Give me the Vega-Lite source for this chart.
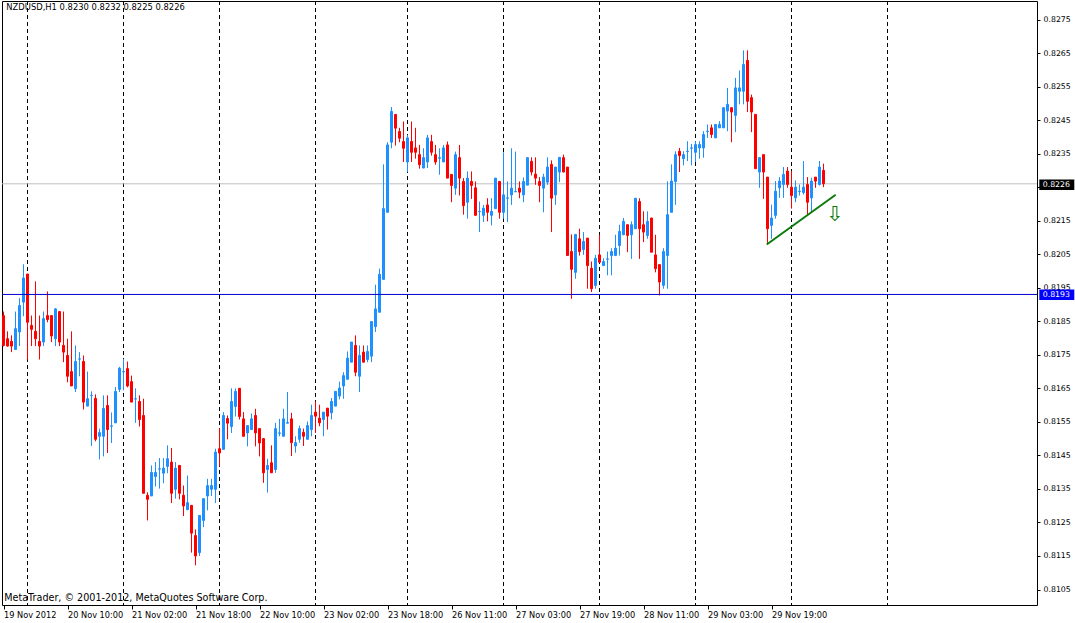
{
"$schema": "https://vega.github.io/schema/vega-lite/v6.json",
"width": 1035, "height": 604,
"autosize": {"type": "none"},
"padding": {"left": 2, "top": 1, "right": 38, "bottom": 18},
"background": "white",
"config": {"view": {"stroke": "black", "strokeWidth": 1}, "axis": {"title": null, "grid": false, "domain": false, "labelOverlap": false}, "scale": {"continuousPadding": 0}},
"resolve": {"axis": {"x": "independent", "y": "independent"}},
"datasets": {
"candles": [
{"i":0,"o":0.81867,"h":0.81879,"l":0.81775,"c":0.81778},
{"i":1,"o":0.81798,"h":0.81820,"l":0.81775,"c":0.81776},
{"i":2,"o":0.81790,"h":0.81808,"l":0.81758,"c":0.81776},
{"i":3,"o":0.81766,"h":0.81879,"l":0.81766,"c":0.81828},
{"i":4,"o":0.81818,"h":0.81919,"l":0.81776,"c":0.81897},
{"i":5,"o":0.81907,"h":0.82020,"l":0.81865,"c":0.81979},
{"i":6,"o":0.81991,"h":0.81991,"l":0.81736,"c":0.81847},
{"i":7,"o":0.81838,"h":0.81867,"l":0.81776,"c":0.81826},
{"i":8,"o":0.81820,"h":0.81969,"l":0.81776,"c":0.81798},
{"i":9,"o":0.81790,"h":0.81867,"l":0.81736,"c":0.81776},
{"i":10,"o":0.81788,"h":0.81879,"l":0.81776,"c":0.81858},
{"i":11,"o":0.81867,"h":0.81939,"l":0.81847,"c":0.81855},
{"i":12,"o":0.81867,"h":0.81867,"l":0.81788,"c":0.81806},
{"i":13,"o":0.81798,"h":0.81889,"l":0.81776,"c":0.81887},
{"i":14,"o":0.81879,"h":0.81879,"l":0.81776,"c":0.81788},
{"i":15,"o":0.81778,"h":0.81879,"l":0.81728,"c":0.81758},
{"i":16,"o":0.81748,"h":0.81798,"l":0.81668,"c":0.81686},
{"i":17,"o":0.81700,"h":0.81820,"l":0.81657,"c":0.81657},
{"i":18,"o":0.81649,"h":0.81778,"l":0.81639,"c":0.81730},
{"i":19,"o":0.81737,"h":0.81758,"l":0.81686,"c":0.81738},
{"i":20,"o":0.81730,"h":0.81748,"l":0.81587,"c":0.81609},
{"i":21,"o":0.81597,"h":0.81700,"l":0.81597,"c":0.81619},
{"i":22,"o":0.81628,"h":0.81641,"l":0.81478,"c":0.81629},
{"i":23,"o":0.81620,"h":0.81632,"l":0.81492,"c":0.81498},
{"i":24,"o":0.81507,"h":0.81530,"l":0.81438,"c":0.81518},
{"i":25,"o":0.81507,"h":0.81629,"l":0.81447,"c":0.81590},
{"i":26,"o":0.81599,"h":0.81629,"l":0.81457,"c":0.81527},
{"i":27,"o":0.81537,"h":0.81578,"l":0.81487,"c":0.81538},
{"i":28,"o":0.81547,"h":0.81654,"l":0.81547,"c":0.81641},
{"i":29,"o":0.81647,"h":0.81714,"l":0.81639,"c":0.81710},
{"i":30,"o":0.81699,"h":0.81738,"l":0.81644,"c":0.81700},
{"i":31,"o":0.81709,"h":0.81730,"l":0.81653,"c":0.81657},
{"i":32,"o":0.81670,"h":0.81688,"l":0.81609,"c":0.81609},
{"i":33,"o":0.81618,"h":0.81650,"l":0.81547,"c":0.81619},
{"i":34,"o":0.81611,"h":0.81629,"l":0.81536,"c":0.81557},
{"i":35,"o":0.81569,"h":0.81619,"l":0.81337,"c":0.81337},
{"i":36,"o":0.81331,"h":0.81340,"l":0.81256,"c":0.81319},
{"i":37,"o":0.81329,"h":0.81420,"l":0.81329,"c":0.81399},
{"i":38,"o":0.81387,"h":0.81430,"l":0.81357,"c":0.81399},
{"i":39,"o":0.81409,"h":0.81442,"l":0.81351,"c":0.81410},
{"i":40,"o":0.81397,"h":0.81442,"l":0.81367,"c":0.81412},
{"i":41,"o":0.81417,"h":0.81480,"l":0.81397,"c":0.81440},
{"i":42,"o":0.81430,"h":0.81472,"l":0.81308,"c":0.81337},
{"i":43,"o":0.81349,"h":0.81430,"l":0.81321,"c":0.81412},
{"i":44,"o":0.81420,"h":0.81420,"l":0.81319,"c":0.81337},
{"i":45,"o":0.81331,"h":0.81360,"l":0.81269,"c":0.81299},
{"i":46,"o":0.81288,"h":0.81390,"l":0.81288,"c":0.81309},
{"i":47,"o":0.81301,"h":0.81301,"l":0.81160,"c":0.81218},
{"i":48,"o":0.81211,"h":0.81229,"l":0.81122,"c":0.81150},
{"i":49,"o":0.81160,"h":0.81271,"l":0.81150,"c":0.81271},
{"i":50,"o":0.81256,"h":0.81321,"l":0.81236,"c":0.81321},
{"i":51,"o":0.81329,"h":0.81380,"l":0.81286,"c":0.81360},
{"i":52,"o":0.81349,"h":0.81380,"l":0.81329,"c":0.81360},
{"i":53,"o":0.81349,"h":0.81470,"l":0.81308,"c":0.81460},
{"i":54,"o":0.81470,"h":0.81531,"l":0.81417,"c":0.81457},
{"i":55,"o":0.81468,"h":0.81579,"l":0.81468,"c":0.81569},
{"i":56,"o":0.81560,"h":0.81569,"l":0.81498,"c":0.81546},
{"i":57,"o":0.81536,"h":0.81650,"l":0.81517,"c":0.81611},
{"i":58,"o":0.81596,"h":0.81650,"l":0.81566,"c":0.81641},
{"i":59,"o":0.81650,"h":0.81650,"l":0.81557,"c":0.81566},
{"i":60,"o":0.81559,"h":0.81579,"l":0.81507,"c":0.81507},
{"i":61,"o":0.81517,"h":0.81539,"l":0.81477,"c":0.81539},
{"i":62,"o":0.81527,"h":0.81575,"l":0.81527,"c":0.81559},
{"i":63,"o":0.81569,"h":0.81589,"l":0.81477,"c":0.81517},
{"i":64,"o":0.81530,"h":0.81530,"l":0.81447,"c":0.81487},
{"i":65,"o":0.81500,"h":0.81500,"l":0.81368,"c":0.81398},
{"i":66,"o":0.81408,"h":0.81440,"l":0.81339,"c":0.81420},
{"i":67,"o":0.81428,"h":0.81480,"l":0.81398,"c":0.81398},
{"i":68,"o":0.81408,"h":0.81547,"l":0.81398,"c":0.81530},
{"i":69,"o":0.81516,"h":0.81559,"l":0.81507,"c":0.81517},
{"i":70,"o":0.81507,"h":0.81589,"l":0.81507,"c":0.81559},
{"i":71,"o":0.81546,"h":0.81639,"l":0.81546,"c":0.81548},
{"i":72,"o":0.81559,"h":0.81577,"l":0.81448,"c":0.81488},
{"i":73,"o":0.81478,"h":0.81507,"l":0.81458,"c":0.81488},
{"i":74,"o":0.81498,"h":0.81539,"l":0.81488,"c":0.81530},
{"i":75,"o":0.81519,"h":0.81530,"l":0.81478,"c":0.81507},
{"i":76,"o":0.81498,"h":0.81551,"l":0.81498,"c":0.81539},
{"i":77,"o":0.81527,"h":0.81601,"l":0.81507,"c":0.81569},
{"i":78,"o":0.81579,"h":0.81611,"l":0.81517,"c":0.81567},
{"i":79,"o":0.81561,"h":0.81601,"l":0.81537,"c":0.81547},
{"i":80,"o":0.81557,"h":0.81579,"l":0.81507,"c":0.81579},
{"i":81,"o":0.81591,"h":0.81591,"l":0.81527,"c":0.81567},
{"i":82,"o":0.81577,"h":0.81621,"l":0.81557,"c":0.81611},
{"i":83,"o":0.81597,"h":0.81641,"l":0.81597,"c":0.81641},
{"i":84,"o":0.81627,"h":0.81670,"l":0.81617,"c":0.81651},
{"i":85,"o":0.81657,"h":0.81698,"l":0.81619,"c":0.81688},
{"i":86,"o":0.81677,"h":0.81760,"l":0.81677,"c":0.81740},
{"i":87,"o":0.81728,"h":0.81788,"l":0.81728,"c":0.81788},
{"i":88,"o":0.81778,"h":0.81808,"l":0.81686,"c":0.81698},
{"i":89,"o":0.81686,"h":0.81778,"l":0.81639,"c":0.81748},
{"i":90,"o":0.81758,"h":0.81778,"l":0.81728,"c":0.81728},
{"i":91,"o":0.81736,"h":0.81778,"l":0.81728,"c":0.81760},
{"i":92,"o":0.81746,"h":0.81849,"l":0.81728,"c":0.81849},
{"i":93,"o":0.81834,"h":0.81959,"l":0.81818,"c":0.81887},
{"i":94,"o":0.81877,"h":0.82007,"l":0.81877,"c":0.81990},
{"i":95,"o":0.81975,"h":0.82318,"l":0.81975,"c":0.82186},
{"i":96,"o":0.82175,"h":0.82384,"l":0.82175,"c":0.82376},
{"i":97,"o":0.82384,"h":0.82489,"l":0.82366,"c":0.82476},
{"i":98,"o":0.82467,"h":0.82467,"l":0.82374,"c":0.82426},
{"i":99,"o":0.82416,"h":0.82427,"l":0.82384,"c":0.82396},
{"i":100,"o":0.82386,"h":0.82446,"l":0.82325,"c":0.82366},
{"i":101,"o":0.82325,"h":0.82406,"l":0.82295,"c":0.82397},
{"i":102,"o":0.82386,"h":0.82446,"l":0.82325,"c":0.82354},
{"i":103,"o":0.82367,"h":0.82427,"l":0.82335,"c":0.82354},
{"i":104,"o":0.82347,"h":0.82376,"l":0.82305,"c":0.82317},
{"i":105,"o":0.82307,"h":0.82366,"l":0.82307,"c":0.82338},
{"i":106,"o":0.82325,"h":0.82406,"l":0.82307,"c":0.82397},
{"i":107,"o":0.82386,"h":0.82406,"l":0.82344,"c":0.82354},
{"i":108,"o":0.82347,"h":0.82376,"l":0.82317,"c":0.82325},
{"i":109,"o":0.82336,"h":0.82366,"l":0.82287,"c":0.82338},
{"i":110,"o":0.82325,"h":0.82376,"l":0.82325,"c":0.82367},
{"i":111,"o":0.82376,"h":0.82386,"l":0.82277,"c":0.82277},
{"i":112,"o":0.82288,"h":0.82288,"l":0.82205,"c":0.82255},
{"i":113,"o":0.82247,"h":0.82356,"l":0.82227,"c":0.82347},
{"i":114,"o":0.82338,"h":0.82376,"l":0.82225,"c":0.82277},
{"i":115,"o":0.82267,"h":0.82277,"l":0.82168,"c":0.82195},
{"i":116,"o":0.82205,"h":0.82297,"l":0.82156,"c":0.82277},
{"i":117,"o":0.82267,"h":0.82297,"l":0.82215,"c":0.82255},
{"i":118,"o":0.82248,"h":0.82267,"l":0.82166,"c":0.82166},
{"i":119,"o":0.82177,"h":0.82207,"l":0.82116,"c":0.82178},
{"i":120,"o":0.82166,"h":0.82197,"l":0.82146,"c":0.82187},
{"i":121,"o":0.82197,"h":0.82217,"l":0.82148,"c":0.82175},
{"i":122,"o":0.82166,"h":0.82217,"l":0.82136,"c":0.82178},
{"i":123,"o":0.82186,"h":0.82277,"l":0.82186,"c":0.82277},
{"i":124,"o":0.82267,"h":0.82267,"l":0.82156,"c":0.82175},
{"i":125,"o":0.82175,"h":0.82354,"l":0.82156,"c":0.82227},
{"i":126,"o":0.82217,"h":0.82267,"l":0.82146,"c":0.82218},
{"i":127,"o":0.82227,"h":0.82366,"l":0.82197,"c":0.82247},
{"i":128,"o":0.82236,"h":0.82356,"l":0.82236,"c":0.82237},
{"i":129,"o":0.82247,"h":0.82267,"l":0.82217,"c":0.82235},
{"i":130,"o":0.82227,"h":0.82279,"l":0.82205,"c":0.82267},
{"i":131,"o":0.82256,"h":0.82339,"l":0.82256,"c":0.82338},
{"i":132,"o":0.82327,"h":0.82339,"l":0.82285,"c":0.82295},
{"i":133,"o":0.82289,"h":0.82339,"l":0.82257,"c":0.82277},
{"i":134,"o":0.82267,"h":0.82280,"l":0.82205,"c":0.82255},
{"i":135,"o":0.82247,"h":0.82290,"l":0.82175,"c":0.82280},
{"i":136,"o":0.82265,"h":0.82339,"l":0.82257,"c":0.82310},
{"i":137,"o":0.82318,"h":0.82330,"l":0.82116,"c":0.82217},
{"i":138,"o":0.82227,"h":0.82310,"l":0.82197,"c":0.82310},
{"i":139,"o":0.82295,"h":0.82339,"l":0.82265,"c":0.82339},
{"i":140,"o":0.82338,"h":0.82347,"l":0.82295,"c":0.82295},
{"i":141,"o":0.82310,"h":0.82310,"l":0.82046,"c":0.82046},
{"i":142,"o":0.82058,"h":0.82109,"l":0.81917,"c":0.82005},
{"i":143,"o":0.81996,"h":0.82109,"l":0.81977,"c":0.82109},
{"i":144,"o":0.82096,"h":0.82126,"l":0.82046,"c":0.82058},
{"i":145,"o":0.82064,"h":0.82116,"l":0.82048,"c":0.82088},
{"i":146,"o":0.82098,"h":0.82098,"l":0.81947,"c":0.82016},
{"i":147,"o":0.82008,"h":0.82028,"l":0.81937,"c":0.81947},
{"i":148,"o":0.81957,"h":0.82048,"l":0.81947,"c":0.82038},
{"i":149,"o":0.82048,"h":0.82108,"l":0.82026,"c":0.82026},
{"i":150,"o":0.82016,"h":0.82038,"l":0.82016,"c":0.82028},
{"i":151,"o":0.82035,"h":0.82058,"l":0.81987,"c":0.82036},
{"i":152,"o":0.82046,"h":0.82068,"l":0.81987,"c":0.82058},
{"i":153,"o":0.82046,"h":0.82108,"l":0.82046,"c":0.82068},
{"i":154,"o":0.82076,"h":0.82138,"l":0.82046,"c":0.82118},
{"i":155,"o":0.82108,"h":0.82158,"l":0.82108,"c":0.82148},
{"i":156,"o":0.82138,"h":0.82138,"l":0.82056,"c":0.82106},
{"i":157,"o":0.82108,"h":0.82148,"l":0.82036,"c":0.82138},
{"i":158,"o":0.82126,"h":0.82217,"l":0.82126,"c":0.82217},
{"i":159,"o":0.82207,"h":0.82217,"l":0.82036,"c":0.82126},
{"i":160,"o":0.82138,"h":0.82178,"l":0.82086,"c":0.82116},
{"i":161,"o":0.82106,"h":0.82178,"l":0.82096,"c":0.82148},
{"i":162,"o":0.82158,"h":0.82158,"l":0.82056,"c":0.82056},
{"i":163,"o":0.82048,"h":0.82108,"l":0.81996,"c":0.82007},
{"i":164,"o":0.82019,"h":0.82019,"l":0.81927,"c":0.81967},
{"i":165,"o":0.81957,"h":0.82068,"l":0.81947,"c":0.82058},
{"i":166,"o":0.82046,"h":0.82267,"l":0.81947,"c":0.82168},
{"i":167,"o":0.82175,"h":0.82318,"l":0.82175,"c":0.82268},
{"i":168,"o":0.82267,"h":0.82357,"l":0.82197,"c":0.82347},
{"i":169,"o":0.82357,"h":0.82367,"l":0.82295,"c":0.82344},
{"i":170,"o":0.82335,"h":0.82357,"l":0.82315,"c":0.82347},
{"i":171,"o":0.82356,"h":0.82387,"l":0.82328,"c":0.82357},
{"i":172,"o":0.82366,"h":0.82379,"l":0.82315,"c":0.82367},
{"i":173,"o":0.82354,"h":0.82387,"l":0.82325,"c":0.82377},
{"i":174,"o":0.82367,"h":0.82387,"l":0.82335,"c":0.82377},
{"i":175,"o":0.82367,"h":0.82417,"l":0.82338,"c":0.82407},
{"i":176,"o":0.82416,"h":0.82437,"l":0.82397,"c":0.82417},
{"i":177,"o":0.82427,"h":0.82437,"l":0.82397,"c":0.82407},
{"i":178,"o":0.82397,"h":0.82437,"l":0.82397,"c":0.82437},
{"i":179,"o":0.82427,"h":0.82447,"l":0.82427,"c":0.82437},
{"i":180,"o":0.82427,"h":0.82487,"l":0.82427,"c":0.82487},
{"i":181,"o":0.82477,"h":0.82546,"l":0.82417,"c":0.82497},
{"i":182,"o":0.82487,"h":0.82487,"l":0.82384,"c":0.82474},
{"i":183,"o":0.82464,"h":0.82576,"l":0.82414,"c":0.82546},
{"i":184,"o":0.82536,"h":0.82598,"l":0.82497,"c":0.82546},
{"i":185,"o":0.82536,"h":0.82658,"l":0.82497,"c":0.82616},
{"i":186,"o":0.82628,"h":0.82658,"l":0.82474,"c":0.82506},
{"i":187,"o":0.82517,"h":0.82526,"l":0.82414,"c":0.82474},
{"i":188,"o":0.82467,"h":0.82467,"l":0.82305,"c":0.82305},
{"i":189,"o":0.82295,"h":0.82338,"l":0.82248,"c":0.82338},
{"i":190,"o":0.82347,"h":0.82347,"l":0.82215,"c":0.82295},
{"i":191,"o":0.82280,"h":0.82280,"l":0.82079,"c":0.82126},
{"i":192,"o":0.82136,"h":0.82198,"l":0.82096,"c":0.82158},
{"i":193,"o":0.82166,"h":0.82268,"l":0.82156,"c":0.82238},
{"i":194,"o":0.82248,"h":0.82280,"l":0.82218,"c":0.82268},
{"i":195,"o":0.82258,"h":0.82310,"l":0.82218,"c":0.82288},
{"i":196,"o":0.82298,"h":0.82310,"l":0.82248,"c":0.82258},
{"i":197,"o":0.82250,"h":0.82298,"l":0.82186,"c":0.82225},
{"i":198,"o":0.82218,"h":0.82270,"l":0.82205,"c":0.82250},
{"i":199,"o":0.82237,"h":0.82258,"l":0.82225,"c":0.82238},
{"i":200,"o":0.82234,"h":0.82328,"l":0.82228,"c":0.82250},
{"i":201,"o":0.82258,"h":0.82280,"l":0.82166,"c":0.82205},
{"i":202,"o":0.82218,"h":0.82278,"l":0.82175,"c":0.82268},
{"i":203,"o":0.82280,"h":0.82280,"l":0.82248,"c":0.82268},
{"i":204,"o":0.82258,"h":0.82328,"l":0.82255,"c":0.82310},
{"i":205,"o":0.82300,"h":0.82320,"l":0.82250,"c":0.82260}
],
"separators": [{"i":6},{"i":30},{"i":54},{"i":78},{"i":101},{"i":125},{"i":149},{"i":173},{"i":197},{"i":221}],
"trend": [{"i":190.8,"p":0.820789},{"i":208.05,"p":0.822272}],
"boxes": [
{"x1":258.95,"x2":267.7,"y1":0.822728,"y2":0.822415,"tx":259.8,"ty":0.8225715,"label":"0.8226","col":"black"},
{"x1":258.95,"x2":267.7,"y1":0.819447,"y2":0.819134,"tx":259.8,"ty":0.8192905,"label":"0.8193","col":"#0000FF"}
]
},
"layer": [
{
"data": {"name": "separators"},
"mark": {"type": "rule", "color": "black", "strokeWidth": 1, "strokeDash": [4, 3]},
"encoding": {
"x": {"field": "i", "type": "quantitative", "scale": {"domain": [-0.375, 258.375], "nice": false, "zero": false, "padding": 0},
"axis": {"orient": "bottom", "values": [0,16,32,48,64,80,96,112,128,144,160,176,192],
"labelExpr": "['19 Nov 2012','20 Nov 10:00','21 Nov 02:00','21 Nov 18:00','22 Nov 10:00','23 Nov 02:00','23 Nov 18:00','26 Nov 11:00','27 Nov 03:00','27 Nov 19:00','28 Nov 11:00','29 Nov 03:00','29 Nov 19:00'][round(datum.value/16)]",
"title": null, "domain": false, "grid": false, "ticks": true, "tickSize": 4, "tickColor": "black",
"labelAlign": "left", "labelBaseline": "top", "labelPadding": 2, "labelDx": -1,
"labelFont": "DejaVu Sans", "labelFontSize": 8.2, "labelColor": "black", "labelFlush": false, "labelOverlap": false}}
}
},
{
"data": {"values": [{"p": 0.8226}]},
"mark": {"type": "rule", "color": "#C0C0C0", "strokeWidth": 1},
"encoding": {
"y": {"field": "p", "type": "quantitative", "scale": {"domain": [0.810038, 0.828052], "nice": false, "zero": false, "padding": 0},
"axis": {"orient": "right", "values": [0.8105,0.8115,0.8125,0.8135,0.8145,0.8155,0.8165,0.8175,0.8185,0.8195,0.8205,0.8215,0.8225,0.8235,0.8245,0.8255,0.8265,0.8275],
"format": ".4f", "labelExpr": "abs(datum.value - 0.8225) < 0.00001 ? '' : datum.label",
"title": null, "domain": false, "grid": false, "tickSize": 3, "tickColor": "black",
"labelPadding": 3, "labelFont": "DejaVu Sans", "labelFontSize": 7.8, "labelColor": "black", "labelBaseline": "middle", "labelFlush": false, "labelOverlap": false}}
}
},
{
"data": {"name": "candles"},
"mark": {"type": "rule", "strokeWidth": 1},
"encoding": {
"x": {"field": "i", "type": "quantitative", "scale": {"domain": [-0.375, 258.375], "nice": false, "zero": false, "padding": 0}, "axis": null},
"y": {"field": "l", "type": "quantitative", "scale": {"domain": [0.810038, 0.828052], "nice": false, "zero": false, "padding": 0}, "axis": null},
"y2": {"field": "h"},
"color": {"condition": {"test": "datum.c >= datum.o", "value": "#1E90FF"}, "value": "#FF0000"}
}
},
{
"data": {"name": "candles"},
"mark": {"type": "bar", "width": 2, "strokeWidth": 1},
"encoding": {
"x": {"field": "i", "type": "quantitative", "scale": {"domain": [-0.375, 258.375], "nice": false, "zero": false, "padding": 0}, "axis": null},
"y": {"field": "o", "type": "quantitative", "scale": {"domain": [0.810038, 0.828052], "nice": false, "zero": false, "padding": 0}, "axis": null},
"y2": {"field": "c"},
"fill": {"condition": {"test": "datum.c >= datum.o", "value": "#1E90FF"}, "value": "#FF0000"},
"stroke": {"condition": {"test": "datum.c >= datum.o", "value": "#1E90FF"}, "value": "#FF0000"}
}
},
{
"data": {"values": [{"p": 0.8193}]},
"mark": {"type": "rule", "color": "#0000D0", "strokeWidth": 1},
"encoding": {
"y": {"field": "p", "type": "quantitative", "scale": {"domain": [0.810038, 0.828052], "nice": false, "zero": false, "padding": 0}, "axis": null}
}
},
{
"data": {"name": "trend"},
"mark": {"type": "line", "color": "#0A7A0A", "strokeWidth": 2},
"encoding": {
"x": {"field": "i", "type": "quantitative", "scale": {"domain": [-0.375, 258.375], "nice": false, "zero": false, "padding": 0}, "axis": null},
"y": {"field": "p", "type": "quantitative", "scale": {"domain": [0.810038, 0.828052], "nice": false, "zero": false, "padding": 0}, "axis": null}
}
},
{
"data": {"values": [{"i": 207.875, "p": 0.82168, "t": "⇩"}]},
"mark": {"type": "text", "font": "DejaVu Sans", "fontSize": 21, "color": "#0A7A0A", "align": "center", "baseline": "middle"},
"encoding": {
"x": {"field": "i", "type": "quantitative", "scale": {"domain": [-0.375, 258.375], "nice": false, "zero": false, "padding": 0}, "axis": null},
"y": {"field": "p", "type": "quantitative", "scale": {"domain": [0.810038, 0.828052], "nice": false, "zero": false, "padding": 0}, "axis": null},
"text": {"field": "t"}
}
},
{
"data": {"values": [
{"i": 0.7, "p": 0.827867, "t": "NZDUSD,H1  0.8230 0.8232 0.8225 0.8226", "s": "a"},
{"i": 0.2, "p": 0.810232, "t": "MetaTrader, © 2001-2012, MetaQuotes Software Corp.", "s": "b"}
]},
"mark": {"type": "text", "font": "DejaVu Sans", "color": "black", "align": "left", "baseline": "middle"},
"encoding": {
"x": {"field": "i", "type": "quantitative", "scale": {"domain": [-0.375, 258.375], "nice": false, "zero": false, "padding": 0}, "axis": null},
"y": {"field": "p", "type": "quantitative", "scale": {"domain": [0.810038, 0.828052], "nice": false, "zero": false, "padding": 0}, "axis": null},
"text": {"field": "t"},
"size": {"condition": {"test": "datum.s == 'a'", "value": 8.4}, "value": 9.6}
}
},
{
"data": {"name": "boxes"},
"mark": {"type": "rect", "clip": false},
"encoding": {
"x": {"field": "x1", "type": "quantitative", "scale": {"domain": [-0.375, 258.375], "nice": false, "zero": false, "padding": 0}, "axis": null},
"x2": {"field": "x2"},
"y": {"field": "y1", "type": "quantitative", "scale": {"domain": [0.810038, 0.828052], "nice": false, "zero": false, "padding": 0}, "axis": null},
"y2": {"field": "y2"},
"fill": {"field": "col", "type": "nominal", "scale": null}
}
},
{
"data": {"name": "boxes"},
"mark": {"type": "text", "font": "DejaVu Sans", "fontSize": 7.8, "color": "white", "align": "left", "baseline": "middle", "clip": false},
"encoding": {
"x": {"field": "tx", "type": "quantitative", "scale": {"domain": [-0.375, 258.375], "nice": false, "zero": false, "padding": 0}, "axis": null},
"y": {"field": "ty", "type": "quantitative", "scale": {"domain": [0.810038, 0.828052], "nice": false, "zero": false, "padding": 0}, "axis": null},
"text": {"field": "label"}
}
}
]
}
